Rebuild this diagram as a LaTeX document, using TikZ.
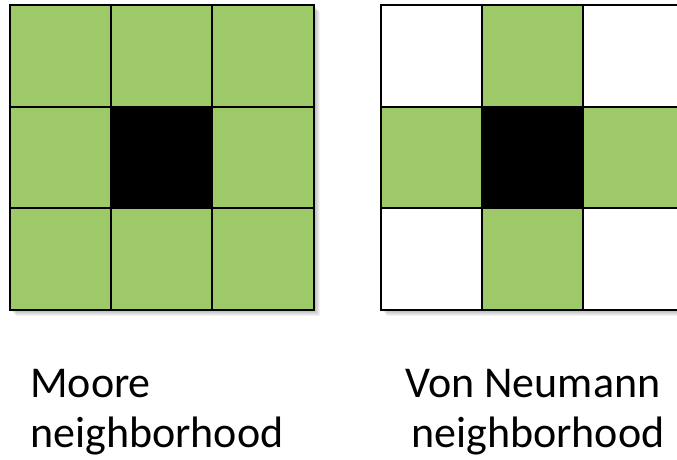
\documentclass[tikz,border=0pt]{standalone}
\usepackage{fontspec}
\setmainfont{Carlito}
\definecolor{cellgreen}{RGB}{158,201,104}
\begin{document}
\begin{tikzpicture}[x=1pt,y=-1pt,
  gridline/.style={draw=black,line width=1.6pt},
  lbl/.style={anchor=base west,inner sep=0pt,font=\fontsize{44}{50}\selectfont}]
\useasboundingbox (0,0) rectangle (677,459);
% soft shadows
\foreach \k in {1,...,6}{
  \fill[black,opacity=0.05] (10+\k,5+\k) rectangle (314+\k,310+\k);
  \fill[black,opacity=0.05] (381+\k,5+\k) rectangle (685+\k,310+\k);
}
% Moore grid
\fill[cellgreen] (10,5) rectangle (314,310);
\fill[black] (111,107) rectangle (212,208);
\draw[gridline] (10,5) rectangle (314,310);
\draw[gridline] (111,5) -- (111,310) (212,5) -- (212,310)
                (10,107) -- (314,107) (10,208) -- (314,208);
% Von Neumann grid
\fill[white] (381,5) rectangle (685,310);
\fill[cellgreen] (482,5) rectangle (583,310);
\fill[cellgreen] (381,107) rectangle (685,208);
\fill[black] (482,107) rectangle (583,208);
\draw[gridline] (381,5) rectangle (685,310);
\draw[gridline] (482,5) -- (482,310) (583,5) -- (583,310)
                (381,107) -- (685,107) (381,208) -- (685,208);
% labels
\node[lbl] (m1) at (30,397) {Moore};
\node[lbl] (m2) at (30,447) {neighborhood};
\node[lbl] (v1) at (405,397) {Von Neumann};
\node[lbl] (v2) at (411,447) {neighborhood};
\end{tikzpicture}
\end{document}
